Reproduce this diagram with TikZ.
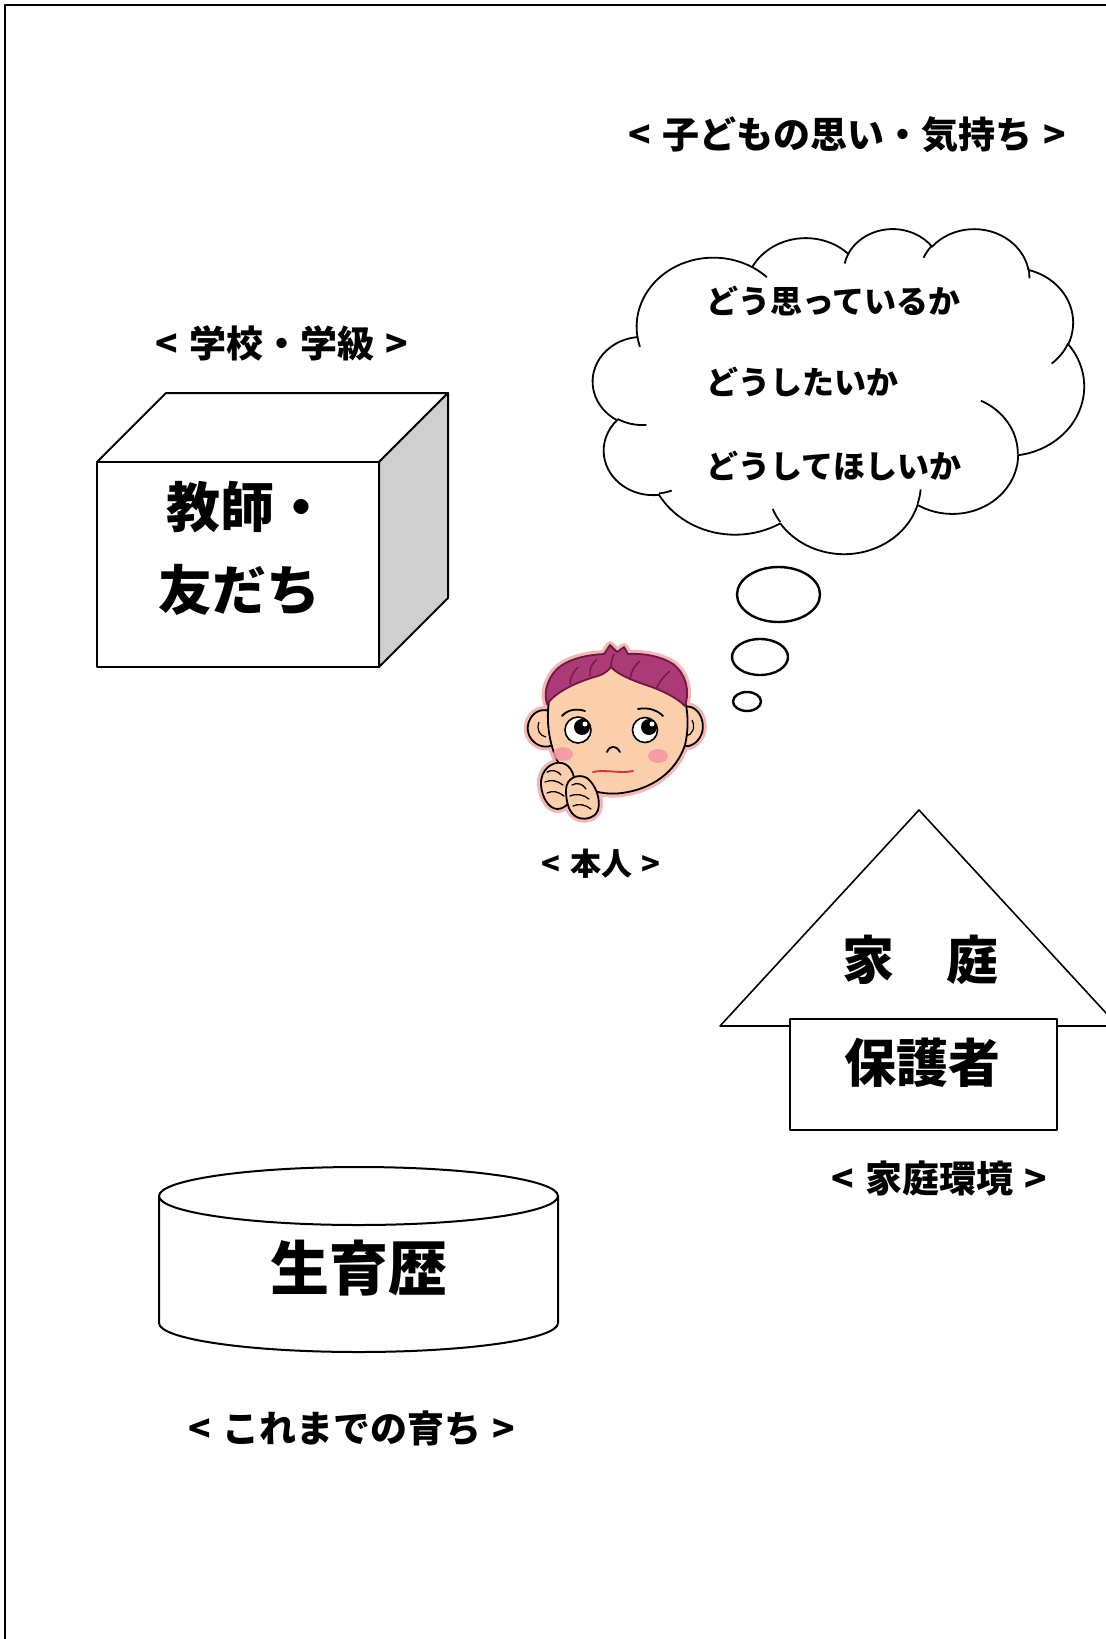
\documentclass[tikz,border=0pt]{standalone}
\usepackage{fontspec}
\newfontfamily\jp{Noto Sans CJK JP}
\definecolor{sidegrey}{RGB}{208,208,208}
\definecolor{skin}{RGB}{251,206,172}
\definecolor{hairfill}{RGB}{172,58,118}
\definecolor{hairdark}{RGB}{112,24,68}
\definecolor{halo}{RGB}{245,182,182}
\definecolor{blush}{RGB}{246,150,162}
\definecolor{lip}{RGB}{214,48,66}

% parametric start angle and sweep of an elliptic arc given by visual angles
\newcommand\setarc[6]{%
  \pgfmathsetmacro#1{atan2((#3)*sin(#5),(#4)*cos(#5))}%
  \pgfmathsetmacro\arctmpb{atan2((#3)*sin((#5)+(#6)),(#4)*cos((#5)+(#6)))}%
  \pgfmathsetmacro#2{\arctmpb-(#1)}%
  \pgfmathsetmacro#2{(#2)-360*round(((#2)-(#6))/360)}%
}
% bracketed caption text
\newcommand\brk[1]{<\hspace{0.3em}#1\hspace{0.3em}>}

% face parts (pixel coordinates, y downwards)
\def\headshape{(549,700) .. controls (546,722) and (549,744) .. (558,762) .. controls (574,788) and (598,796) .. (622,793) .. controls (652,789) and (676,772) .. (685,745) .. controls (689,728) and (688,710) .. (684,697) .. controls (676,660) and (642,652) .. (612,654) .. controls (582,656) and (553,672) .. (549,700) -- cycle}
\def\earL{(552,712) .. controls (533,703) and (520,728) .. (533,741) .. controls (539,747) and (547,748) .. (553,745)}
\def\earR{(681,708) .. controls (698,700) and (710,726) .. (698,740) .. controls (692,747) and (686,747) .. (683,745)}
\def\hairshape{(547,704) .. controls (556,692) and (576,682) .. (598,676) .. controls (604,674) and (608,671) .. (611,667) .. controls (617,674) and (631,680) .. (646,685) .. controls (661,690) and (676,697) .. (685,706) .. controls (690,690) and (686,674) .. (673,664) .. controls (661,656) and (642,653) .. (628,654) -- (624,647) -- (617,652) -- (610,645) -- (604,654) .. controls (584,655) and (565,660) .. (555,671) .. controls (546,682) and (544,694) .. (547,704) -- cycle}
\def\handL{(541,785) .. controls (540,770) and (552,761) .. (562,763) .. controls (571,765) and (576,776) .. (574,788) .. controls (573,800) and (566,809) .. (557,809) .. controls (548,808) and (542,797) .. (541,785) -- cycle}
\def\handR{(566,790) .. controls (566,778) and (578,773) .. (587,778) .. controls (596,785) and (601,800) .. (598,810) .. controls (595,819) and (582,821) .. (575,816) .. controls (568,811) and (566,800) .. (566,790) -- cycle}

\begin{document}
\begin{tikzpicture}[x=1pt,y=1pt,yscale=-1,line join=round,
  boxline/.style={draw=black,line width=2pt},
  houseline/.style={draw=black,line width=1.6pt},
  cloudline/.style={draw=black,line width=1.8pt},
  bubble/.style={draw=black,line width=2.4pt},
  lbl/.style={font=\jp\bfseries\fontsize{37}{42}\selectfont,inner sep=0pt},
  big/.style={font=\jp\bfseries\fontsize{52}{60}\selectfont,inner sep=0pt},
  thought/.style={font=\jp\bfseries\fontsize{32}{38}\selectfont,inner sep=0pt,anchor=west},
  haloline/.style={draw=halo,line width=8pt},
  faceline/.style={draw=black,line width=1.8pt}]
\useasboundingbox (0,0) rectangle (1106,1639);
\fill[white] (0,0) rectangle (1106,1639);
\clip (0,0) rectangle (1106,1639);

% frame
\draw[line width=2.6pt] (5,1639) -- (5,5) -- (1106,5);

% heading
\node[lbl] (kodomo) at (847,135) {\brk{子どもの思い・気持ち}};

% school: cube
\node[lbl] (gakkou) at (282,343) {\brk{学校・学級}};
\filldraw[fill=white,boxline] (97,462) -- (166,393) -- (448,393) -- (379,462) -- cycle;
\filldraw[fill=sidegrey,boxline] (379,462) -- (448,393) -- (448,598) -- (379,667) -- cycle;
\filldraw[fill=white,boxline] (97,462) rectangle (379,667);
\node[big,anchor=west,font=\jp\bfseries\fontsize{54}{60}\selectfont] (kyoushi) at (166,507) {教師・};
\node[big,anchor=west,font=\jp\bfseries\fontsize{54}{60}\selectfont] (tomodachi) at (158,590) {友だち};

% thought cloud
\setarc\clSa\clDa{67.53}{91.90}{-190.4875}{123.7805}
\setarc\clSb\clDb{53.33}{72.67}{-144.1024}{89.9452}
\setarc\clSc\clDc{43.65}{59.45}{-145.8079}{99.7230}
\setarc\clSd\clDd{48.57}{65.95}{-130.9861}{117.2417}
\setarc\clSe\clDe{53.33}{72.73}{-78.7089}{109.0269}
\setarc\clSf\clDf{67.75}{92.20}{-46.2673}{130.2690}
\setarc\clSg\clDg{57.85}{78.67}{0.6250}{114.0333}
\setarc\clSh\clDh{67.52}{92.15}{22.4516}{115.1726}
\setarc\clSi\clDi{77.20}{105.43}{66.2426}{75.7110}
\setarc\clSj\clDj{43.60}{59.18}{-274.9421}{146.7356}
\setarc\clSk\clDk{43.45}{59.45}{-246.8285}{152.5189}
\setarc\inSa\inDa{43.45}{59.45}{86.7420}{26.4295}
\setarc\inSb\inDb{43.60}{59.18}{73.6105}{11.4475}
\setarc\inSc\inDc{67.52}{92.15}{137.6242}{14.0811}
\setarc\inSd\inDd{67.52}{92.15}{6.4533}{15.9984}
\setarc\inSe\inDe{57.85}{78.67}{-70.2924}{70.9174}
\setarc\inSf\inDf{53.33}{72.73}{30.3180}{27.7515}
\setarc\inSg\inDg{48.57}{65.95}{-13.7443}{14.8589}
\setarc\inSh\inDh{48.57}{65.95}{-149.1815}{18.1954}
\setarc\inSi\inDi{43.65}{59.45}{-163.4943}{17.6864}
\setarc\inSj\inDj{67.53}{91.90}{-66.7070}{12.3194}
\setarc\inSk\inDk{67.53}{91.90}{157.6544}{11.8582}
\begin{scope}[shift={(593,228)},xscale=1.13657,yscale=0.75231]
\draw[cloudline,fill=white] (39.00,143.70)
  arc[start angle=\clSa,delta angle=\clDa,x radius=67.53pt,y radius=91.90pt]
  arc[start angle=\clSb,delta angle=\clDb,x radius=53.33pt,y radius=72.67pt]
  arc[start angle=\clSc,delta angle=\clDc,x radius=43.65pt,y radius=59.45pt]
  arc[start angle=\clSd,delta angle=\clDd,x radius=48.57pt,y radius=65.95pt]
  arc[start angle=\clSe,delta angle=\clDe,x radius=53.33pt,y radius=72.73pt]
  arc[start angle=\clSf,delta angle=\clDf,x radius=67.75pt,y radius=92.20pt]
  arc[start angle=\clSg,delta angle=\clDg,x radius=57.85pt,y radius=78.67pt]
  arc[start angle=\clSh,delta angle=\clDh,x radius=67.52pt,y radius=92.15pt]
  arc[start angle=\clSi,delta angle=\clDi,x radius=77.20pt,y radius=105.43pt]
  arc[start angle=\clSj,delta angle=\clDj,x radius=43.60pt,y radius=59.18pt]
  arc[start angle=\clSk,delta angle=\clDk,x radius=43.45pt,y radius=59.45pt]
  -- cycle;
\draw[cloudline]
  (46.93,261.77) arc[start angle=\inSa,delta angle=\inDa,x radius=43.45pt,y radius=59.45pt]
  (69.28,348.99) arc[start angle=\inSb,delta angle=\inDb,x radius=43.60pt,y radius=59.18pt]
  (164.78,390.90) arc[start angle=\inSc,delta angle=\inDc,x radius=67.52pt,y radius=92.15pt]
  (288.27,347.51) arc[start angle=\inSd,delta angle=\inDd,x radius=67.52pt,y radius=92.15pt]
  (341.29,229.54) arc[start angle=\inSe,delta angle=\inDe,x radius=57.85pt,y radius=78.67pt]
  (417.98,153.54) arc[start angle=\inSf,delta angle=\inDf,x radius=53.33pt,y radius=72.73pt]
  (383.24,54.26) arc[start angle=\inSg,delta angle=\inDg,x radius=48.57pt,y radius=65.95pt]
  (290.78,39.52) arc[start angle=\inSh,delta angle=\inDh,x radius=48.57pt,y radius=65.95pt]
  (221.41,47.20) arc[start angle=\inSi,delta angle=\inDi,x radius=43.65pt,y radius=59.45pt]
  (140.00,51.92) arc[start angle=\inSj,delta angle=\inDj,x radius=67.53pt,y radius=91.90pt]
  (41.27,157.89) arc[start angle=\inSk,delta angle=\inDk,x radius=67.53pt,y radius=91.90pt];
\end{scope}
\node[thought] (omoi) at (706,301) {どう思っているか};
\node[thought] (shitai) at (706,382) {どうしたいか};
\node[thought] (hoshii) at (706,466) {どうしてほしいか};

% thought bubbles
\draw[bubble] (778.5,594.5) ellipse[x radius=41.5,y radius=27.5];
\draw[bubble] (760,657) ellipse[x radius=28,y radius=18];
\draw[bubble] (747,701.5) ellipse[x radius=14,y radius=9.5];

% the child
\draw[haloline] \headshape;
\draw[haloline] \earL;
\draw[haloline] \earR;
\draw[haloline] \hairshape;
\draw[haloline] \handL;
\draw[haloline] \handR;
\fill[skin] \earL -- (562,728) -- cycle;
\draw[faceline] \earL;
\fill[skin] \earR -- (672,727) -- cycle;
\draw[faceline] \earR;
\draw[faceline,line width=1.2pt] (539,722) .. controls (536,730) and (540,736) .. (546,737);
\draw[faceline,line width=1.2pt] (692,720) .. controls (696,728) and (692,735) .. (686,736);
\filldraw[fill=skin,faceline] \headshape;
\filldraw[fill=hairfill,draw=hairdark,line width=1.8pt] \hairshape;
\draw[hairdark,line width=1.4pt] (590,676) .. controls (589,669) and (592,663) .. (597,659)
  (611,667) .. controls (611,662) and (612,658) .. (614,654)
  (630,679) .. controls (631,672) and (634,666) .. (640,661)
  (656,689) .. controls (659,682) and (664,676) .. (670,671)
  (570,684) .. controls (570,678) and (573,672) .. (578,667);
\fill[blush,opacity=0.85] (563,754) ellipse[x radius=10,y radius=7];
\fill[blush,opacity=0.85] (658,756) ellipse[x radius=10,y radius=7];
\filldraw[fill=white,draw=black,line width=1.6pt] (578,730) circle[radius=13];
\fill[black] (582,727) circle[radius=8];
\fill[white] (585,724) circle[radius=2.5];
\filldraw[fill=white,draw=black,line width=1.6pt] (645,730) circle[radius=12.5];
\fill[black] (649,727) circle[radius=8];
\fill[white] (652,724) circle[radius=2.5];
\draw[faceline,line cap=round] (562,716) .. controls (567,710) and (576,708) .. (585,711);
\draw[faceline,line cap=round] (638,709) .. controls (648,707) and (657,710) .. (663,716);
\draw[faceline,line cap=round] (607,752) .. controls (610,745) and (616,745) .. (620,752);
\draw[lip,line width=1.8pt,line cap=round] (593,772) .. controls (605,769) and (620,774) .. (633,771);
\filldraw[fill=skin,faceline] \handL;
\draw[faceline,line width=1.3pt,line cap=round] (547,772) .. controls (552,769) and (558,771) .. (561,775)
  (545,782) .. controls (551,779) and (558,781) .. (563,785)
  (547,793) .. controls (553,790) and (559,792) .. (564,796);
\filldraw[fill=skin,faceline] \handR;
\draw[faceline,line width=1.3pt,line cap=round] (572,785) .. controls (577,782) and (583,784) .. (586,789)
  (570,796) .. controls (577,793) and (584,795) .. (589,799)
  (573,806) .. controls (579,803) and (586,805) .. (591,809);
\node[lbl,font=\jp\bfseries\fontsize{31}{36}\selectfont] (honnin) at (601,864) {\brk{本人}};

% home
\draw[houseline,fill=white] (919,810) -- (720,1026) -- (1118,1026) -- cycle;
\filldraw[fill=white,houseline] (790,1019) rectangle (1057,1130);
\node[big] (katei) at (920,960) {家　庭};
\node[big] (hogosha) at (922,1063) {保護者};
\node[lbl] (kankyou) at (939,1179) {\brk{家庭環境}};

% history: cylinder
\filldraw[fill=white,boxline] (159,1196) -- (159,1323)
  arc[start angle=180,end angle=0,x radius=199.5pt,y radius=29pt] -- (558,1196);
\filldraw[fill=white,boxline] (358.5,1196) ellipse[x radius=199.5,y radius=29];
\node[font=\jp\bfseries\fontsize{59}{66}\selectfont,inner sep=0pt] (seiikureki) at (359,1268) {生育歴};
\node[lbl] (sodachi) at (352,1428) {\brk{これまでの育ち}};
\end{tikzpicture}
\end{document}
